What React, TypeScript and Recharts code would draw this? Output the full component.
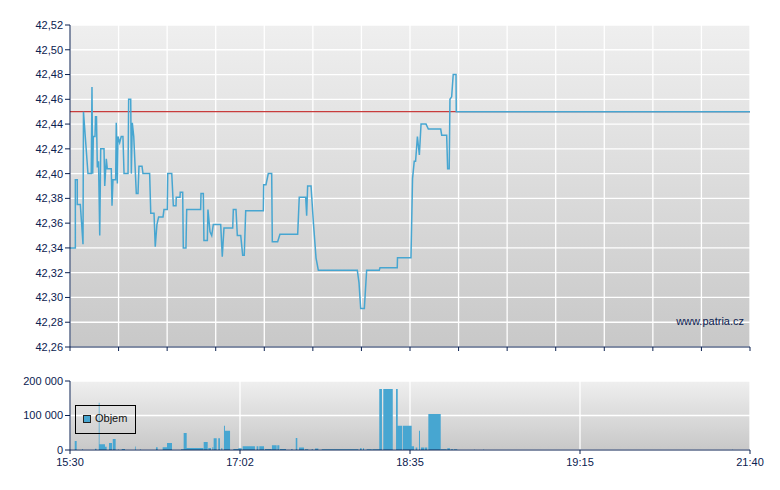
import React from 'react';
import {
  LineChart, Line, XAxis, YAxis, CartesianGrid, ReferenceLine,
  AreaChart, Area,
} from 'recharts';

// x positions are in "slot" units: 0..560 across the session axis
const priceX = [
  0, 4.4, 4.4, 6.0, 6.0, 8.5, 10.7, 11.1, 14.8, 17.5, 18.1, 18.7, 19.2, 20.6, 21.0, 21.8, 22.5, 23.5, 24.5, 25.3,
  28.0, 28.6, 29.9, 30.7, 34.0, 34.6, 35.4, 37.6, 38.1, 39.0, 39.5, 40.9, 42.2, 43.6, 44.5, 47.8, 48.3, 50.0, 50.5, 51.3,
  52.5, 54.6, 56.0, 56.8, 59.3, 60.1, 65.6, 66.5, 69.2, 70.2, 71.6, 73.0, 76.6, 77.4, 80.1, 80.5, 83.8, 85.1, 87.3, 87.5,
  90.6, 90.8, 92.8, 93.3, 95.5, 96.1, 107.6, 107.9, 109.8, 110.3, 113.1, 113.6, 115.3, 116.7, 118.0, 124.1, 125.4, 126.8, 134.0, 134.5,
  136.7, 137.8, 140.6, 142.2, 143.5, 144.7, 159.2, 159.5, 161.4, 163.3, 166.1, 166.6, 171.0, 172.9, 187.5, 188.8, 194.1, 194.9, 195.7, 198.5,
  200.4, 202.6, 204.5, 236.6, 238.0, 239.4, 242.4, 244.3, 254.7, 255.3, 269.5, 269.7, 280.8, 282.1, 283.5, 284.6, 286.1, 287.7, 289.1, 293.2,
  295.1, 305.3, 306.1, 310.2, 311.0, 312.3, 312.9, 314.3, 315.6, 317.9, 318.1, 560,
];
const priceY = [
  42.34, 42.34, 42.395, 42.395, 42.375, 42.375, 42.343, 42.45, 42.40, 42.40, 42.47, 42.40, 42.43, 42.43, 42.446, 42.446, 42.405, 42.41, 42.35, 42.42,
  42.42, 42.39, 42.412, 42.404, 42.404, 42.374, 42.395, 42.395, 42.441, 42.392, 42.43, 42.425, 42.43, 42.43, 42.40, 42.40, 42.46, 42.46, 42.40, 42.441,
  42.43, 42.384, 42.384, 42.406, 42.406, 42.40, 42.40, 42.368, 42.368, 42.341, 42.359, 42.365, 42.365, 42.371, 42.371, 42.40, 42.40, 42.374, 42.374, 42.381,
  42.381, 42.385, 42.385, 42.34, 42.34, 42.371, 42.371, 42.384, 42.384, 42.346, 42.346, 42.371, 42.353, 42.35, 42.359, 42.359, 42.333, 42.356, 42.356, 42.371,
  42.371, 42.35, 42.35, 42.334, 42.334, 42.37, 42.37, 42.391, 42.391, 42.40, 42.40, 42.345, 42.345, 42.351, 42.351, 42.381, 42.381, 42.366, 42.39, 42.39,
  42.361, 42.332, 42.322, 42.322, 42.312, 42.291, 42.291, 42.322, 42.322, 42.324, 42.324, 42.332, 42.332, 42.396, 42.41, 42.41, 42.43, 42.415, 42.44, 42.44,
  42.436, 42.436, 42.431, 42.431, 42.404, 42.404, 42.46, 42.462, 42.48, 42.48, 42.45, 42.45,
];
const referencePrice = 42.45;

const volStart = [
  3.9, 9.9, 20.6, 23.7, 24.3, 28.8, 32.1, 35.2, 39.8, 42.6, 53.5, 57.6, 70.8, 76.3, 79.9, 91.4, 93.6, 96.1, 110.1, 113.9,
  117.2, 118.3, 122.1, 124.6, 126.8, 127.6, 134.5, 138.6, 142.2, 153.7, 155.9, 160.6, 166.3, 170.7, 172.9, 182.0, 185.9, 188.6, 193.5, 199.0,
  201.8, 207.3, 212.7, 238.8, 241.3, 244.3, 249.0, 254.7, 258.0, 268.5, 269.9, 274.0, 281.4, 284.7, 287.4, 289.0, 292.3, 295.1, 305.5, 310.7,
  313.5, 316.2, 333.0, 340.4, 545.2,
];
const volEnd = [
  5.5, 10.7, 21.8, 24.3, 28.8, 30.2, 34.6, 37.6, 40.3, 45.3, 54.1, 58.2, 72.2, 79.9, 84.0, 93.6, 96.1, 109.8, 113.4, 116.1,
  118.0, 120.8, 123.5, 125.4, 127.6, 131.8, 138.6, 141.4, 152.3, 155.1, 159.8, 166.1, 170.2, 172.4, 177.9, 183.4, 187.2, 192.7, 196.2, 200.1,
  204.5, 212.7, 237.4, 240.2, 242.1, 248.5, 254.7, 256.9, 265.8, 269.9, 273.4, 281.4, 283.3, 286.0, 288.2, 291.8, 294.2, 305.3, 310.2, 312.9,
  315.6, 318.9, 333.5, 341.0, 545.7,
];
const volValue = [
  26000, 2000, 3500, 137000, 17000, 9500, 20000, 32000, 2000, 3000, 10000, 2000, 8000, 8000, 20000, 2000, 49000, 6000, 23000, 6000,
  8000, 34000, 34000, 6000, 70000, 56000, 3000, 5000, 11000, 11000, 11000, 3000, 14000, 14000, 3000, 2500, 35000, 7000, 2500, 2500,
  4000, 2500, 2500, 5000, 5000, 2500, 2500, 177000, 177000, 177000, 70000, 70000, 11000, 7000, 56000, 7000, 7000, 104000, 2500, 5000,
  2500, 2500, 1500, 1500, 1500,
];

const priceTicks = [42.26, 42.28, 42.30, 42.32, 42.34, 42.36, 42.38, 42.40, 42.42, 42.44, 42.46, 42.48, 42.50, 42.52];
const topXTicks = [0, 40, 80, 120, 160, 200, 240, 280, 320, 360, 400, 440, 480, 520, 560];
const timeTicks = [0, 140, 280, 420, 560];
const timeLabels = ['15:30', '17:02', '18:35', '19:15', '21:40'];
const volTicks = [0, 100000, 200000];
const seriesName = 'Objem';
const sourceText = 'www.patria.cz';

const NAVY = '#0b2150';
const FONT = '"Liberation Sans", Arial, sans-serif';
const BLUE = '#47a6d1';

const priceData = priceX.map((u, i) => ({ u, p: priceY[i] }));

const volData: { u: number; v: number }[] = [{ u: 0, v: 0 }];
volStart.forEach((s, i) => {
  volData.push({ u: s, v: volValue[i] });
  const next = volStart[i + 1];
  if (next === undefined || next > volEnd[i]) volData.push({ u: volEnd[i], v: 0 });
});
volData.push({ u: 560, v: 0 });

const fmtPrice = (v: number) => v.toFixed(2).replace('.', ',');
const fmtVol = (v: number) => String(v).replace(/\B(?=(\d{3})+(?!\d))/g, ' ');
const fmtTime = (v: number) => {
  const i = timeTicks.indexOf(v);
  return i >= 0 ? timeLabels[i] : '';
};

const tickStyle = { fontSize: 11, fill: NAVY, fontFamily: FONT };

export default function App() {
  return (
    <div style={{ position: 'absolute', left: 0, top: 0, width: 780, height: 490, background: '#fff', fontFamily: FONT }}>
      <div style={{ position: 'absolute', left: 0, top: 0 }}>
        <LineChart width={780} height={360} data={priceData} margin={{ top: 25, right: 30, left: 0, bottom: 0 }}>
          <defs>
            <linearGradient id="bgTop" x1="0" y1="0" x2="0" y2="1">
              <stop offset="0%" stopColor="#efefef" />
              <stop offset="100%" stopColor="#c8c8c8" />
            </linearGradient>
          </defs>
          <CartesianGrid stroke="#ffffff" strokeWidth={1.3} fill="url(#bgTop)" fillOpacity={1} />
          <XAxis
            dataKey="u"
            type="number"
            domain={[0, 560]}
            ticks={topXTicks}
            tickFormatter={() => ''}
            tickSize={4}
            height={13}
            axisLine={{ stroke: NAVY }}
            tickLine={{ stroke: NAVY }}
            tick={tickStyle}
          />
          <YAxis
            type="number"
            domain={[42.26, 42.52]}
            ticks={priceTicks}
            tickFormatter={fmtPrice}
            width={70}
            tickSize={5}
            tickMargin={2}
            axisLine={{ stroke: NAVY }}
            tickLine={{ stroke: NAVY }}
            tick={tickStyle}
            allowDataOverflow
          />
          <ReferenceLine y={referencePrice} stroke="#c83c3c" strokeWidth={1.2} />
          <Line
            type="linear"
            dataKey="p"
            stroke={BLUE}
            strokeWidth={1.5}
            dot={false}
            activeDot={false}
            isAnimationActive={false}
          />
        </LineChart>
      </div>
      <div style={{ position: 'absolute', left: 0, top: 360 }}>
        <AreaChart width={780} height={130} data={volData} margin={{ top: 21, right: 30, left: 0, bottom: 0 }}>
          <defs>
            <linearGradient id="bgBot" x1="0" y1="0" x2="0" y2="1">
              <stop offset="0%" stopColor="#efefef" />
              <stop offset="100%" stopColor="#c8c8c8" />
            </linearGradient>
          </defs>
          <CartesianGrid stroke="#ffffff" strokeWidth={1.3} fill="url(#bgBot)" fillOpacity={1} />
          <XAxis
            dataKey="u"
            type="number"
            domain={[0, 560]}
            ticks={timeTicks}
            tickFormatter={fmtTime}
            tickSize={4}
            tickMargin={4}
            height={40}
            axisLine={{ stroke: NAVY }}
            tickLine={{ stroke: NAVY }}
            tick={tickStyle}
          />
          <YAxis
            type="number"
            domain={[0, 200000]}
            ticks={volTicks}
            tickFormatter={fmtVol}
            width={70}
            tickSize={5}
            tickMargin={2}
            axisLine={{ stroke: NAVY }}
            tickLine={{ stroke: NAVY }}
            tick={tickStyle}
          />
          <Area
            type="stepAfter"
            dataKey="v"
            name={seriesName}
            stroke="none"
            fill={BLUE}
            fillOpacity={1}
            dot={false}
            activeDot={false}
            isAnimationActive={false}
          />
        </AreaChart>
      </div>
      <div style={{ position: 'absolute', left: 75, top: 405, width: 59, height: 27, border: '1px solid #000', boxSizing: 'content-box' }}>
        <div style={{ position: 'absolute', left: 7, top: 9, width: 6, height: 6, background: BLUE, border: '1px solid #222' }} />
        <span style={{ position: 'absolute', left: 19, top: 6, fontSize: 11, fontFamily: FONT, color: '#111', lineHeight: '13px', whiteSpace: 'nowrap' }}>
          {seriesName}
        </span>
      </div>
      <div style={{ position: 'absolute', left: 600, top: 315, width: 144, textAlign: 'right', fontSize: 11, fontFamily: FONT, color: NAVY, lineHeight: '13px' }}>
        {sourceText}
      </div>
    </div>
  );
}
